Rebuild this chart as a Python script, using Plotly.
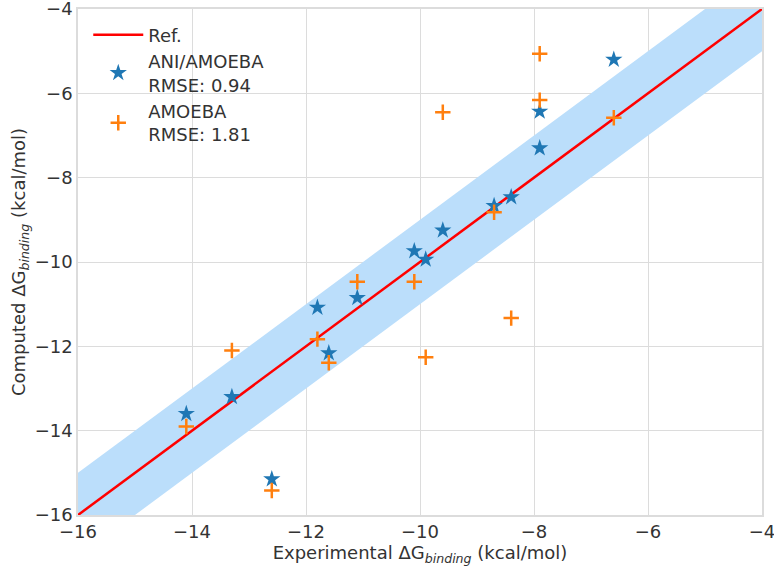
import plotly.graph_objects as go

# Data
exp_x = [-14.1, -13.3, -12.6, -11.8, -11.6, -11.1, -10.1, -9.9, -9.6, -8.7, -8.4, -7.9, -7.9, -6.6]
ani_y = [-13.6, -13.2, -15.15, -11.08, -12.16, -10.85, -9.74, -9.94, -9.25, -8.67, -8.46, -6.43, -7.3, -5.2]
amoeba_x = [-14.1, -13.3, -12.6, -11.8, -11.6, -11.1, -10.1, -9.9, -9.6, -8.7, -8.4, -7.9, -7.9, -6.6]
amoeba_y = [-13.9, -12.1, -15.42, -11.83, -12.39, -10.47, -10.47, -12.26, -6.45, -8.82, -11.33, -5.06, -6.16, -6.58]
ref_line = [-16, -4]
band_half = 1.0
tick_vals = [-16, -14, -12, -10, -8, -6, -4]

band_x = ref_line + ref_line[::-1]
band_y = [v + band_half for v in ref_line] + [v - band_half for v in ref_line[::-1]]

TXT = "#333333"
fig = go.Figure()
fig.add_trace(go.Scatter(x=band_x, y=band_y, fill="toself", mode="none",
                         fillcolor="#bbdefb", showlegend=False, hoverinfo="skip"))
fig.add_trace(go.Scatter(x=ref_line, y=ref_line, mode="lines", name="Ref.",
                         line=dict(color="red", width=2.5)))
fig.add_trace(go.Scatter(x=exp_x, y=ani_y, mode="markers", name="ANI/AMOEBA<br>RMSE: 0.94",
                         marker=dict(symbol="star", size=13, color="#1f77b4", line=dict(width=0))))
fig.add_trace(go.Scatter(x=amoeba_x, y=amoeba_y, mode="markers", name="AMOEBA<br>RMSE: 1.81",
                         marker=dict(symbol="cross-thin", size=11, color="#ff7f0e",
                                     line=dict(width=2.5, color="#ff7f0e"))))

axis_common = dict(range=[-16, -4], tickvals=tick_vals, showgrid=True, gridcolor="#dcdcdc",
                   gridwidth=1, zeroline=False, showline=True, linecolor="#dcdcdc", linewidth=1.5,
                   mirror=True, ticks="", automargin=False, ticklabeloverflow="allow",
                   tickfont=dict(family="DejaVu Sans", size=18, color=TXT))

fig.update_layout(
    width=774, height=570,
    margin=dict(l=78, r=12, t=9, b=55),
    paper_bgcolor="white", plot_bgcolor="white",
    font=dict(family="DejaVu Sans", size=18, color=TXT),
    xaxis=dict(title=dict(text="Experimental ΔG<sub><i>binding</i></sub> (kcal/mol)",
                          font=dict(family="DejaVu Sans", size=18, color=TXT), standoff=4), **axis_common),
    yaxis=dict(title=dict(text="Computed ΔG<sub><i>binding</i></sub> (kcal/mol)",
                          font=dict(family="DejaVu Sans", size=18, color=TXT), standoff=4), **axis_common),
    legend=dict(x=0.015, y=0.985, xanchor="left", yanchor="top", bgcolor="rgba(0,0,0,0)",
                font=dict(family="DejaVu Sans", size=18, color=TXT), tracegroupgap=9,
                itemwidth=50),
)

fig.write_html("out.html", config={"displayModeBar": False},
               post_script="document.body.style.margin='0px';")
